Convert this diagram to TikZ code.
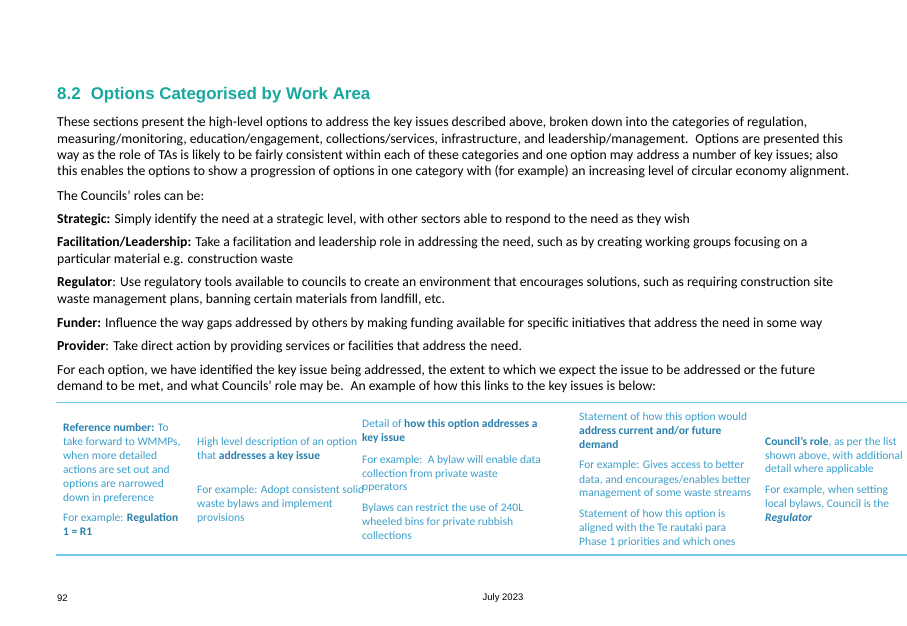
\documentclass[tikz,border=0pt]{standalone}
\usepackage{fontspec}
\setmainfont{Carlito}
\newfontfamily\arial{Liberation Sans}
\definecolor{ttl}{HTML}{17A89E}
\definecolor{tb}{HTML}{3C9FCB}
\definecolor{tbd}{HTML}{2A80AC}
\definecolor{ln}{HTML}{6CC8EE}
\begin{document}
\begin{tikzpicture}[x=1pt,y=-1pt,
  bt/.style={anchor=west,inner sep=0pt,font=\fontsize{13.7}{16}\selectfont},
  tt/.style={anchor=west,inner sep=0pt,text=tb,font=\fontsize{11.5}{13}\selectfont}]
\useasboundingbox[fill=white] (0,0) rectangle (907,626);
\node[anchor=west,inner sep=0pt,text=ttl,font=\arial\bfseries\fontsize{16.9}{19}\selectfont] (title) at (57,95) {8.2\hspace{0.6em}Options Categorised by Work Area};
\node[bt] (b1) at (57,123) {These sections present the high-level options to address the key issues described above, broken down into the categories of regulation,};
\node[bt] (b2) at (57,139.5) {measuring/monitoring, education/engagement, collections/services, infrastructure, and leadership/management.\enspace Options are presented this};
\node[bt] (b3) at (57,155.5) {way as the role of TAs is likely to be fairly consistent within each of these categories and one option may address a number of key issues; also};
\node[bt] (b4) at (57,171.5) {this enables the options to show a progression of options in one category with (for example) an increasing level of circular economy alignment.};
\node[bt] (b5) at (57,196) {The Councils’ roles can be:};
\node[bt] (b6) at (57,220) {\textbf{Strategic:} Simply identify the need at a strategic level, with other sectors able to respond to the need as they wish};
\node[bt] (b7) at (57,243) {\textbf{Facilitation/Leadership:} Take a facilitation and leadership role in addressing the need, such as by creating working groups focusing on a};
\node[bt] (b8) at (57,259.5) {particular material e.g. construction waste};
\node[bt] (b9) at (57,283) {\textbf{Regulator}: Use regulatory tools available to councils to create an environment that encourages solutions, such as requiring construction site};
\node[bt] (b10) at (57,300) {waste management plans, banning certain materials from landfill, etc.};
\node[bt] (b11) at (57,323.5) {\textbf{Funder:} Influence the way gaps addressed by others by making funding available for specific initiatives that address the need in some way};
\node[bt] (b12) at (57,347) {\textbf{Provider}: Take direct action by providing services or facilities that address the need.};
\node[bt] (b13) at (57,370.5) {For each option, we have identified the key issue being addressed, the extent to which we expect the issue to be addressed or the future};
\node[bt] (b14) at (57,387) {demand to be met, and what Councils’ role may be.\enspace An example of how this links to the key issues is below:};
\coordinate (tl) at (56,402.5); \coordinate (tr) at (907,402.5);
\coordinate (bl) at (56,555); \coordinate (br) at (907,555);
\draw[ln,line width=1.8pt] (tl) -- (tr);
\draw[ln,line width=1.8pt] (bl) -- (br);
% col1
\node[tt] (c1a) at (63,428) {\textbf{\color{tbd}Reference number:} To};
\node[tt] (c1b) at (63,442) {take forward to WMMPs,};
\node[tt] (c1c) at (63,456) {when more detailed};
\node[tt] (c1d) at (63,470) {actions are set out and};
\node[tt] (c1e) at (63,484) {options are narrowed};
\node[tt] (c1f) at (63,498) {down in preference};
\node[tt] (c1g) at (63,518) {For example: \textbf{\color{tbd}Regulation}};
\node[tt] (c1h) at (63,532) {\textbf{\color{tbd}1 = R1}};
% col2
\node[tt] (c2a) at (197,442) {High level description of an option};
\node[tt] (c2b) at (197,456) {that \textbf{\color{tbd}addresses a key issue}};
\node[tt] (c2c) at (197,490) {For example: Adopt consistent solid};
\node[tt] (c2d) at (197,504) {waste bylaws and implement};
\node[tt] (c2e) at (197,518) {provisions};
% col3
\node[tt] (c3a) at (362,424) {Detail of \textbf{\color{tbd}how this option addresses a}};
\node[tt] (c3b) at (362,438) {\textbf{\color{tbd}key issue}};
\node[tt] (c3c) at (362,460) {For example:\, A bylaw will enable data};
\node[tt] (c3d) at (362,474) {collection from private waste};
\node[tt] (c3e) at (362,488) {operators};
\node[tt] (c3f) at (362,508) {Bylaws can restrict the use of 240L};
\node[tt] (c3g) at (362,522) {wheeled bins for private rubbish};
\node[tt] (c3h) at (362,536) {collections};
% col4
\node[tt] (c4a) at (579,417) {Statement of how this option would};
\node[tt] (c4b) at (579,431) {\textbf{\color{tbd}address current and/or future}};
\node[tt] (c4c) at (579,445) {\textbf{\color{tbd}demand}};
\node[tt] (c4d) at (579,465) {For example: Gives access to better};
\node[tt] (c4e) at (579,480) {data, and encourages/enables better};
\node[tt] (c4f) at (579,494) {management of some waste streams};
\node[tt] (c4g) at (579,514) {Statement of how this option is};
\node[tt] (c4h) at (579,528) {aligned with the Te rautaki para};
\node[tt] (c4i) at (579,542) {Phase 1 priorities and which ones};
% col5
\node[tt] (c5a) at (765,442) {\textbf{\color{tbd}Council’s role}, as per the list};
\node[tt] (c5b) at (765,456) {shown above, with additional};
\node[tt] (c5c) at (765,469) {detail where applicable};
\node[tt] (c5d) at (765,490) {For example, when setting};
\node[tt] (c5e) at (765,504) {local bylaws, Council is the};
\node[tt] (c5f) at (765,518) {\textbf{\itshape\color{tbd}Regulator}};
% footer
\node[anchor=west,inner sep=0pt,font=\arial\fontsize{9.5}{11}\selectfont] (pg) at (57,598) {92};
\node[inner sep=0pt,font=\arial\fontsize{9.5}{11}\selectfont] (dt) at (503,598) {July 2023};
\end{tikzpicture}
\end{document}
